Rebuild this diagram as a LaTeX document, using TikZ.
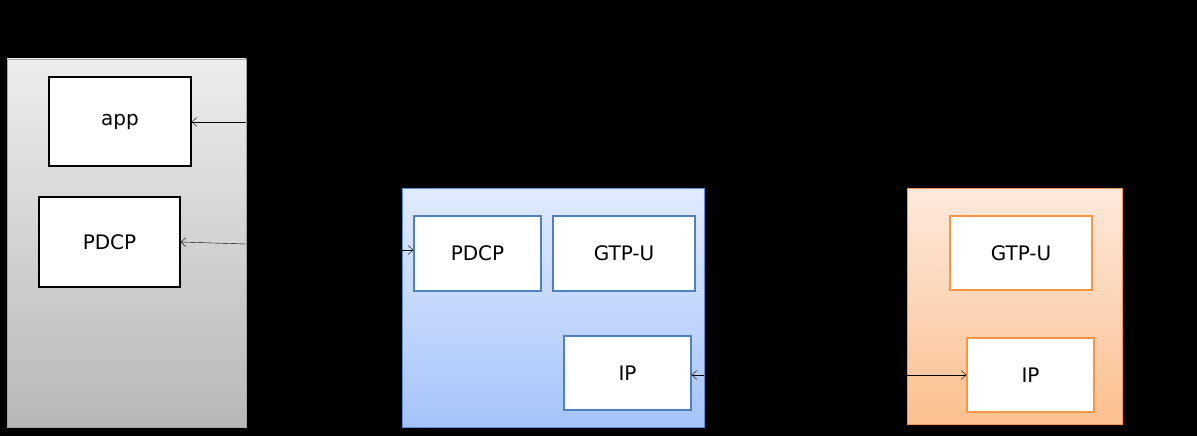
\documentclass[tikz,border=0pt]{standalone}
\usepackage{fontspec}
\setmainfont{DejaVu Sans}
\usetikzlibrary{arrows.meta}
\tikzset{>={Straight Barb[length=5pt,width=9pt]}}
\tikzstyle{layer}=[draw=black,very thick,fill=white,font=\fontsize{20}{24}\selectfont]
\tikzstyle{bluelayer}=[layer,draw=blue!40!black!30!cyan!0!,draw={rgb,255:red,79;green,129;blue,189}]
\tikzstyle{orangelayer}=[layer,draw={rgb,255:red,247;green,150;blue,70}]
\begin{document}
\begin{tikzpicture}[x=1pt,y=-1pt]
  \fill[black] (0,0) rectangle (1197,436); % background
  \useasboundingbox (0,0) rectangle (1197,436);

  % terminal
  \shade[top color=black!7,bottom color=black!28,draw=black!35] (7,59) rectangle (246,427);
  \node[layer,minimum width=142pt,minimum height=89pt] (app) at (120,121.5) {app};
  \node[layer,minimum width=141pt,minimum height=90pt] (pdcpa) at (109.5,242) {PDCP};
  \coordinate (ua) at (246,122);
  \coordinate (ub) at (246,244);
  \draw[->] (ua) -- (app.east |- ua);
  \draw[->] (ub) -- (pdcpa.east);

  % base station
  \shade[top color={rgb,255:red,224;green,235;blue,255},bottom color={rgb,255:red,166;green,196;blue,250},draw={rgb,255:red,91;green,143;blue,216}] (402,188) rectangle (704,427);
  \node[bluelayer,minimum width=127pt,minimum height=75pt] (pdcpb) at (477.5,253.5) {PDCP};
  \node[bluelayer,minimum width=142pt,minimum height=75pt] (gtpb) at (624,253.5) {GTP-U};
  \node[bluelayer,minimum width=127pt,minimum height=74pt] (ipb) at (627.5,373) {IP};
  \coordinate (ba) at (402,250);
  \coordinate (bb) at (704,375);
  \draw[->] (ba) -- (pdcpb.west |- ba);
  \draw[->] (bb) -- (ipb.east |- bb);

  % gateway
  \shade[top color={rgb,255:red,253;green,233;blue,220},bottom color={rgb,255:red,251;green,192;blue,143},draw={rgb,255:red,247;green,150;blue,70}] (907,188) rectangle (1122,424);
  \node[orangelayer,minimum width=142pt,minimum height=74pt] (gtpc) at (1021,253) {GTP-U};
  \node[orangelayer,minimum width=127pt,minimum height=74pt] (ipc) at (1030.5,375) {IP};
  \coordinate (ga) at (907,375);
  \draw[->] (ga) -- (ipc.west |- ga);
\end{tikzpicture}
\end{document}
